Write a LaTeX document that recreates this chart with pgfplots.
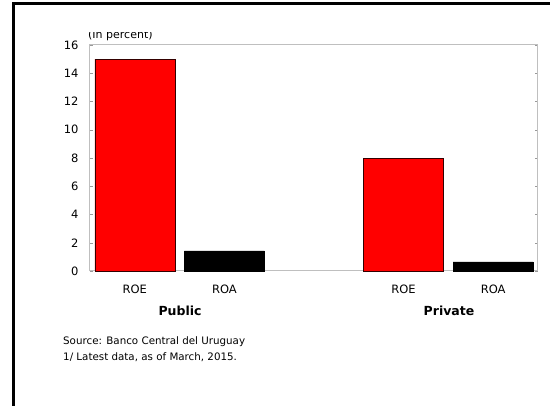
\documentclass[border=0pt]{standalone}
\usepackage{pgfplots}
\pgfplotsset{compat=1.18}
\usepackage{fontspec}
\setmainfont{DejaVu Sans}
\begin{document}
\begin{tikzpicture}[x=1pt,y=1pt]
\useasboundingbox (0,0) rectangle (550,406);
\draw[line width=3pt] (13.5,0) -- (13.5,402.5) -- (550,402.5);
\begin{scope}
\clip (80,300) rectangle (200,373.5);
\node[anchor=base west, inner sep=0pt, font=\fontsize{11}{13}\selectfont] at (88,367.5) {(In percent)};
\end{scope}
\begin{axis}[at={(90pt,135pt)}, anchor=south west, scale only axis,
  width=448pt, height=226pt,
  xmin=-0.5, xmax=4.5, ymin=0, ymax=16,
  ytick={0,2,...,16}, xtick={0,1,3,4}, xticklabels={ROE,ROA,ROE,ROA},
  axis line style={draw=black!25, line width=1pt},
  major tick length=3pt, ytick style={draw=black!40}, xtick style={draw=none},
  tick align=inside,
  tick label style={font=\fontsize{11.5}{13}\selectfont},
  /pgf/number format/assume math mode=true,
  yticklabel style={xshift=-8pt}, xticklabel style={yshift=-7pt},
  ybar, bar width=80pt,
  clip=false]
\addplot[fill=red, draw=black!80!red, bar shift=0pt] coordinates {(0,15) (3,7.95)};
\addplot[fill=black, draw=black, bar shift=0pt] coordinates {(1,1.42) (4,0.65)};
\end{axis}
\node[font=\bfseries\fontsize{12.5}{14}\selectfont] at (180,95) {Public};
\node[font=\bfseries\fontsize{12.5}{14}\selectfont] at (449,95) {Private};
\node[anchor=west, inner sep=0pt, font=\fontsize{10.3}{12}\selectfont] at (63,64) {Source: Banco Central del Uruguay};
\node[anchor=west, inner sep=0pt, font=\fontsize{10.3}{12}\selectfont] at (63,49) {1/ Latest data, as of March, 2015.};
\end{tikzpicture}
\end{document}
